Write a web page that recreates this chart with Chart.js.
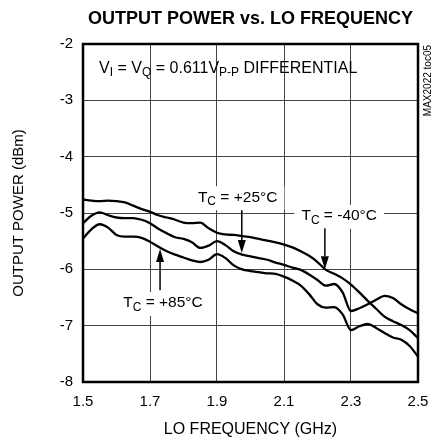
<!DOCTYPE html>
<html>
<head>
<meta charset="utf-8">
<script src="https://cdn.jsdelivr.net/npm/chart.js@4.4.1/dist/chart.umd.min.js"></script>
<style>
html,body{margin:0;padding:0;background:#fff;}
canvas{display:block;}
</style>
</head>
<body>
<canvas id="c" width="431" height="443"></canvas>
<script>
// ---- data ----
const freqGHz = [1.500,1.525,1.550,1.575,1.600,1.625,1.650,1.675,1.700,1.725,
                 1.750,1.775,1.800,1.825,1.850,1.875,1.900,1.925,1.950,1.975,
                 2.000,2.025,2.050,2.075,2.100,2.125,2.150,2.175,2.200,2.225,
                 2.250,2.275,2.300,2.325,2.350,2.375,2.400,2.425,2.450,2.475,2.500];
const powerM40 = [-4.76,-4.78,-4.79,-4.78,-4.79,-4.81,-4.87,-4.93,-4.98,-5.04,
                  -5.08,-5.12,-5.17,-5.18,-5.17,-5.27,-5.35,-5.38,-5.39,-5.41,
                  -5.43,-5.46,-5.49,-5.52,-5.56,-5.61,-5.68,-5.76,-5.87,-6.01,
                  -6.08,-6.16,-6.27,-6.41,-6.56,-6.70,-6.84,-6.92,-6.99,-7.08,-7.22];
const power25  = [-5.18,-5.05,-4.99,-5.04,-5.08,-5.09,-5.09,-5.12,-5.18,-5.28,
                  -5.36,-5.43,-5.46,-5.52,-5.62,-5.58,-5.50,-5.57,-5.68,-5.74,
                  -5.77,-5.80,-5.83,-5.88,-5.92,-5.97,-6.01,-6.09,-6.19,-6.29,
                  -6.26,-6.41,-6.74,-6.69,-6.62,-6.54,-6.47,-6.51,-6.62,-6.71,-6.78];
const power85  = [-5.45,-5.29,-5.20,-5.26,-5.39,-5.42,-5.42,-5.44,-5.51,-5.60,
                  -5.68,-5.74,-5.79,-5.84,-5.87,-5.83,-5.73,-5.80,-5.93,-6.00,
                  -6.03,-6.05,-6.07,-6.08,-6.13,-6.20,-6.29,-6.44,-6.62,-6.68,
                  -6.67,-6.80,-7.08,-7.01,-6.97,-7.04,-7.13,-7.21,-7.25,-7.36,-7.55];
const xTickLabels = ['1.5','1.7','1.9','2.1','2.3','2.5'];
const yTickLabels = ['-2','-3','-4','-5','-6','-7','-8'];
const seriesNames = ['TC = -40°C','TC = +25°C','TC = +85°C'];

const titleText = 'OUTPUT POWER vs. LO FREQUENCY';
const xTitle = 'LO FREQUENCY (GHz)';
const yTitle = 'OUTPUT POWER (dBm)';
const sideNote = 'MAX2022 toc05';

// annotation texts, anchored in data units
const notes = [
  {parts:[['V'],['I',1],[' = V'],['Q',1],[' = 0.611V'],['P-P',1],[' DIFFERENTIAL']], x:1.548, y:-2.43, bg:false, size:16},
  {parts:[['T'],['C',1],[' = +25°C']], x:1.843, y:-4.72, bg:true, size:15.5},
  {parts:[['T'],['C',1],[' = -40°C']], x:2.152, y:-5.05, bg:true, size:15.5},
  {parts:[['T'],['C',1],[' = +85°C']], x:1.620, y:-6.60, bg:true, size:15.5}
];
const arrows = [
  {x:1.974, from:-4.95, to:-5.71},
  {x:2.222, from:-5.27, to:-6.00},
  {x:1.730, from:-6.37, to:-5.64}
];

const FONT = "'Liberation Sans', Arial, Helvetica, sans-serif";

function richWidth(ctx, parts, size){
  let w = 0;
  for (const p of parts){
    ctx.font = (p[1] ? Math.round(size*0.78) : size) + 'px ' + FONT;
    w += ctx.measureText(p[0]).width;
  }
  return w;
}
function drawRich(ctx, parts, x, y, size){
  let cx = x;
  ctx.textAlign = 'left';
  ctx.textBaseline = 'middle';
  for (const p of parts){
    const sub = !!p[1];
    ctx.font = (sub ? Math.round(size*0.78) : size) + 'px ' + FONT;
    ctx.fillText(p[0], cx, y + (sub ? size*0.3 : 0));
    cx += ctx.measureText(p[0]).width;
  }
}

const decor = {
  id: 'decor',
  afterDatasetsDraw(chart){
    const {ctx, chartArea:a, scales:{x, y}} = chart;
    ctx.save();
    // plot frame
    ctx.strokeStyle = '#000';
    ctx.lineWidth = 2.5;
    ctx.strokeRect(a.left, a.top, a.right - a.left, a.bottom - a.top);
    // annotation labels
    ctx.fillStyle = '#000';
    for (const n of notes){
      const px = x.getPixelForValue(n.x), py = y.getPixelForValue(n.y);
      const w = richWidth(ctx, n.parts, n.size);
      if (n.bg){
        ctx.fillStyle = '#fff';
        ctx.fillRect(px - 7, py - 11, w + 14, 24);
        ctx.fillStyle = '#000';
      }
      drawRich(ctx, n.parts, px, py, n.size);
    }
    // arrows
    ctx.strokeStyle = '#000';
    ctx.lineWidth = 1.5;
    for (const ar of arrows){
      const px = x.getPixelForValue(ar.x);
      const y0 = y.getPixelForValue(ar.from), y1 = y.getPixelForValue(ar.to);
      const dir = Math.sign(y1 - y0);
      const headLen = 13, headW = 4;
      ctx.beginPath();
      ctx.moveTo(px, y0);
      ctx.lineTo(px, y1 - dir*headLen);
      ctx.stroke();
      ctx.beginPath();
      ctx.moveTo(px, y1);
      ctx.lineTo(px - headW, y1 - dir*headLen);
      ctx.lineTo(px + headW, y1 - dir*headLen);
      ctx.closePath();
      ctx.fill();
    }
    // title
    ctx.font = 'bold 18px ' + FONT;
    ctx.textAlign = 'center';
    ctx.textBaseline = 'middle';
    ctx.fillText(titleText, (a.left + a.right)/2, 19);
    // side note
    ctx.translate(chart.width - 3, a.top + 1);
    ctx.rotate(-Math.PI/2);
    ctx.font = '10px ' + FONT;
    ctx.textAlign = 'right';
    ctx.textBaseline = 'middle';
    ctx.fillText(sideNote, 0, 0);
    ctx.restore();
  }
};

const mk = (data, label) => ({
  label,
  data: freqGHz.map((f, i) => ({x: f, y: data[i]})),
  borderColor: '#000',
  borderWidth: 2.3,
  pointRadius: 0,
  fill: false,
  cubicInterpolationMode: 'monotone'
});

new Chart(document.getElementById('c'), {
  type: 'line',
  data: { datasets: [mk(powerM40, seriesNames[0]), mk(power25, seriesNames[1]), mk(power85, seriesNames[2])] },
  options: {
    responsive: false,
    animation: false,
    devicePixelRatio: 1,
    layout: { padding: { top: 44, right: 13, left: 0, bottom: 0 } },
    plugins: { legend: { display: false }, tooltip: { enabled: false }, title: { display: false } },
    scales: {
      x: {
        type: 'linear', min: 1.5, max: 2.5,
        afterFit(s){ s.height = 61; s.paddingLeft = 0; s.paddingRight = 0; },
        afterBuildTicks(s){ s.ticks = xTickLabels.map(t => ({value: parseFloat(t)})); },
        ticks: { callback: (v) => xTickLabels.find(t => Math.abs(parseFloat(t) - v) < 1e-6), color: '#000',
                 font: { family: FONT, size: 15 }, padding: 11, maxRotation: 0 },
        grid: { color: '#444', lineWidth: 1, drawTicks: false },
        border: { display: false },
        title: { display: true, text: xTitle, color: '#000', font: { family: FONT, size: 16 }, padding: { top: 0, bottom: 4 } }
      },
      y: {
        type: 'linear', min: -8, max: -2,
        afterFit(s){ s.width = 83; s.paddingTop = 0; s.paddingBottom = 0; },
        afterBuildTicks(s){ s.ticks = yTickLabels.map(t => ({value: parseFloat(t)})); },
        ticks: { callback: (v) => yTickLabels.find(t => Math.abs(parseFloat(t) - v) < 1e-6), color: '#000',
                 font: { family: FONT, size: 15 }, padding: 10 },
        grid: { color: '#444', lineWidth: 1, drawTicks: false },
        border: { display: false },
        title: { display: true, text: yTitle, color: '#000', font: { family: FONT, size: 15 }, padding: { top: 10, bottom: 0 } }
      }
    }
  },
  plugins: [decor]
});
</script>
</body>
</html>
